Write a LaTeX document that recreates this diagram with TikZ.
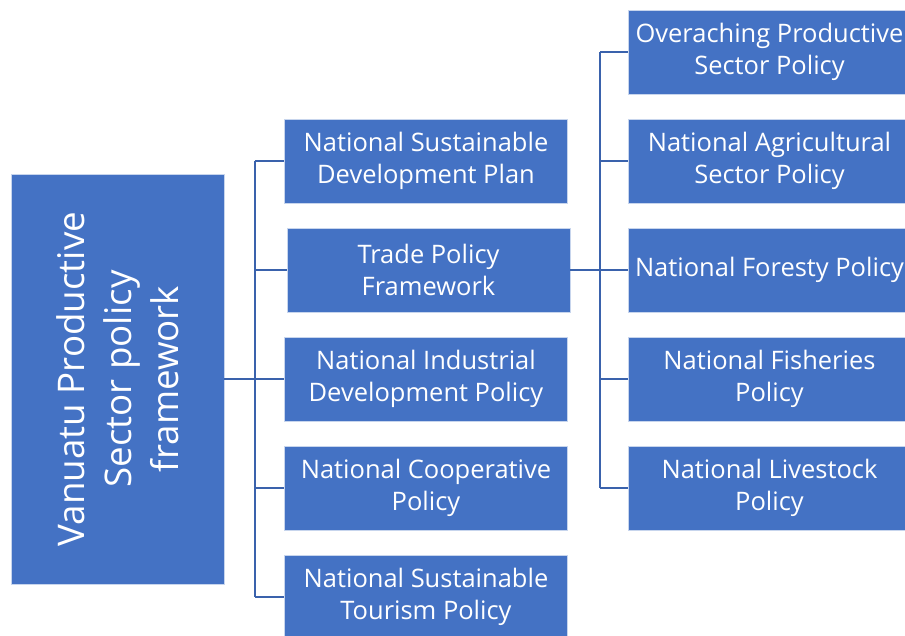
\documentclass[tikz,border=0pt]{standalone}
\usepackage{fontspec}
\setmainfont{Open Sans}
\usepackage{xcolor}
\usetikzlibrary{positioning}
\definecolor{boxblue}{HTML}{4472C4}
\definecolor{lineblue}{HTML}{3A62AC}

\begin{document}
\begin{tikzpicture}[x=0.02cm, y=-0.02cm,
    policy/.style={fill=boxblue, draw=white!70!boxblue, line width=0.5pt, text=white, align=center,
      minimum width=5.66cm, minimum height=1.68cm, inner sep=0pt, font=\fontsize{14.5}{18.2}\selectfont},
    link/.style={lineblue, line width=1.2pt}]
    \useasboundingbox (0,0) rectangle (905,635);
    \clip (0,0) rectangle (905,635);

    \coordinate (R) at (117.5,379);
    \coordinate (M1) at (426,161);
    \coordinate (M2) at (428.5,270);
    \coordinate (M3) at (426,379);
    \coordinate (M4) at (426,488);
    \coordinate (M5) at (426,597);
    \coordinate (P1) at (769.5,52);
    \coordinate (P2) at (769.5,161);
    \coordinate (P3) at (769.5,270);
    \coordinate (P4) at (769.5,379);
    \coordinate (P5) at (769.5,488);

    \coordinate (J1) at (255,379);
    \coordinate (J1top) at (255,161);
    \coordinate (J1bot) at (255,597);
    \coordinate (J2) at (600,270);
    \coordinate (J2top) at (600,52);
    \coordinate (J2bot) at (600,488);

    \node [policy, rotate=90, minimum width=8.2cm, minimum height=4.26cm,
      font=\fontsize{20.9}{26.6}\selectfont] (root) at (R)
      {Vanuatu Productive\\Sector policy\\framework};

    \node [policy] (nsdp) at (M1) {National Sustainable\\Development Plan};
    \node [policy] (trade) at (M2) {Trade Policy\\Framework};
    \node [policy] (nidp) at (M3) {National Industrial\\Development Policy};
    \node [policy] (coop) at (M4) {National Cooperative\\Policy};
    \node [policy] (tour) at (M5) {National Sustainable\\Tourism Policy};

    \node [policy] (over) at (P1) {Overaching Productive\\Sector Policy};
    \node [policy] (agri) at (P2) {National Agricultural\\Sector Policy};
    \node [policy] (fore) at (P3) {National Foresty Policy};
    \node [policy] (fish) at (P4) {National Fisheries\\Policy};
    \node [policy] (live) at (P5) {National Livestock\\Policy};

    \draw [link, line width=1.7pt] (root.south) to (J1);
    \draw [link] (J1top) to (J1bot);
    \draw [link] (J1top) to (nsdp.west);
    \draw [link] (J1 |- trade.west) to (trade.west);
    \draw [link] (J1) to (nidp.west);
    \draw [link] (J1 |- coop.west) to (coop.west);
    \draw [link] (J1bot) to (tour.west);

    \draw [link, line width=1.7pt] (trade.east) to (J2);
    \draw [link] (J2top) to (J2bot);
    \draw [link] (J2top) to (over.west);
    \draw [link] (J2 |- agri.west) to (agri.west);
    \draw [link] (J2) to (fore.west);
    \draw [link] (J2 |- fish.west) to (fish.west);
    \draw [link] (J2bot) to (live.west);
  \end{tikzpicture}
\end{document}
